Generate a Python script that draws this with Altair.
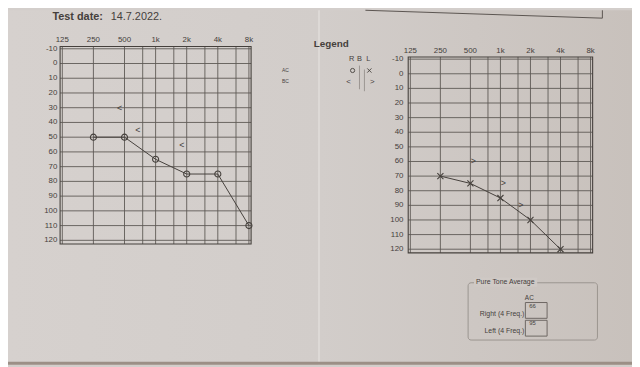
import altair as alt
import pandas as pd

# ---------------- data ----------------
grid_freqs = [125, 250, 500, 750, 1000, 1500, 2000, 3000, 4000, 6000, 8000]
octave_freqs = [125, 250, 500, 1000, 2000, 4000, 8000]
octave_labels = ["125", "250", "500", "1k", "2k", "4k", "8k"]
db_ticks = [-10, 0, 10, 20, 30, 40, 50, 60, 70, 80, 90, 100, 110, 120]

right_ac_freq = [250, 500, 1000, 2000, 4000, 8000]
right_ac_db = [50, 50, 65, 75, 75, 110]
right_bc_freq = [500, 750, 2000]
right_bc_db = [30, 45, 55]

left_ac_freq = [250, 500, 1000, 2000, 4000]
left_ac_db = [70, 75, 85, 100, 120]
left_bc_freq = [500, 1000, 1500]
left_bc_db = [60, 75, 90]

pta_labels = ["Right (4 Freq.)", "Left (4 Freq.)"]
pta_values = [66, 95]

# ---------------- style ----------------
W, H = 632, 359
INK = "#45403c"
GRID = "#5e5955"
FONT = "Liberation Sans"
X_SHAPE = "M-1,-1L1,1M-1,1L1,-1"


def one():
    return pd.DataFrame({"k": [0]})


def audiogram(ac_f, ac_d, bc_f, bc_d, shape, bc_char, bc_dx, xr, yr, lab_dy, lab_dx):
    xs = alt.Scale(type="log", base=2, domain=[125, 8000], range=xr, nice=False)
    ys = alt.Scale(type="linear", domain=[-10, 120], range=yr, nice=False, zero=False)

    vgrid = alt.Chart(pd.DataFrame({"f": grid_freqs})).mark_rule(
        color=GRID, strokeWidth=0.9
    ).encode(
        x=alt.X("f:Q", scale=xs, axis=None),
        y=alt.YDatum(-11.5, scale=ys, axis=None),
        y2=alt.Y2Datum(122.5),
    )
    hgrid = alt.Chart(pd.DataFrame({"d": db_ticks})).mark_rule(
        color=GRID, strokeWidth=0.9
    ).encode(
        y=alt.Y("d:Q", scale=ys, axis=None),
        x=alt.XDatum(119, scale=xs, axis=None),
        x2=alt.X2Datum(8400),
    )
    frame = alt.Chart(one()).mark_rect(
        fillOpacity=0, stroke=INK, strokeWidth=1.1
    ).encode(
        x=alt.XDatum(119, scale=xs, axis=None),
        x2=alt.X2Datum(8400),
        y=alt.YDatum(-11.5, scale=ys, axis=None),
        y2=alt.Y2Datum(122.5),
    )
    flabels = alt.Chart(
        pd.DataFrame({"f": octave_freqs, "t": octave_labels})
    ).mark_text(font=FONT, fontSize=8, color=INK, dy=lab_dy).encode(
        x=alt.X("f:Q", scale=xs, axis=None),
        y=alt.YDatum(-10, scale=ys, axis=None),
        text="t:N",
    )
    dlabels = alt.Chart(
        pd.DataFrame({"d": db_ticks, "t": [str(v) for v in db_ticks]})
    ).mark_text(font=FONT, fontSize=8, color=INK, align="right", dx=lab_dx).encode(
        y=alt.Y("d:Q", scale=ys, axis=None),
        x=alt.XDatum(125, scale=xs, axis=None),
        text="t:N",
    )
    ac = pd.DataFrame({"f": ac_f, "d": ac_d})
    line = alt.Chart(ac).mark_line(color=INK, strokeWidth=1).encode(
        x=alt.X("f:Q", scale=xs, axis=None),
        y=alt.Y("d:Q", scale=ys, axis=None),
    )
    pts = alt.Chart(ac).mark_point(
        shape=shape, filled=False, size=38, color=INK, strokeWidth=1.1, opacity=1
    ).encode(
        x=alt.X("f:Q", scale=xs, axis=None),
        y=alt.Y("d:Q", scale=ys, axis=None),
    )
    bc = alt.Chart(pd.DataFrame({"f": bc_f, "d": bc_d})).mark_text(
        text=bc_char, font=FONT, fontSize=9, color=INK, dx=bc_dx
    ).encode(
        x=alt.X("f:Q", scale=xs, axis=None),
        y=alt.Y("d:Q", scale=ys, axis=None),
    )
    return alt.layer(vgrid, hgrid, frame, flabels, dlabels, line, pts, bc)


def label(text, x, y, size=8, weight="normal", align="center", color=INK):
    return alt.Chart(one()).mark_text(
        text=text, fontSize=size, fontWeight=weight, align=align,
        baseline="middle", font=FONT, color=color
    ).encode(x=alt.value(x), y=alt.value(y))


def rule(x, y, x2, y2, color=INK, width=1.0, opacity=1.0):
    return alt.Chart(one()).mark_rule(
        color=color, strokeWidth=width, opacity=opacity
    ).encode(x=alt.value(x), y=alt.value(y), x2=alt.value(x2), y2=alt.value(y2))


def box(x, y, x2, y2, stroke, fill=None, radius=0, width=1.0):
    props = dict(stroke=stroke, strokeWidth=width, cornerRadius=radius)
    if fill is None:
        props["fillOpacity"] = 0
    else:
        props["fill"] = fill
        props["strokeOpacity"] = 0 if stroke is None else 1
    if stroke is None:
        props.pop("stroke")
        props["strokeWidth"] = 0
    return alt.Chart(one()).mark_rect(**props).encode(
        x=alt.value(x), y=alt.value(y), x2=alt.value(x2), y2=alt.value(y2)
    )


bg = alt.Chart(one()).mark_rect(
    color=alt.LinearGradient(
        gradient="linear",
        stops=[
            alt.GradientStop(color="#d6d1ce", offset=0),
            alt.GradientStop(color="#d2cdca", offset=0.5),
            alt.GradientStop(color="#c8c1bc", offset=1),
        ],
        x1=0, x2=1, y1=0, y2=0,
    )
).encode(x=alt.value(0), x2=alt.value(W), y=alt.value(0), y2=alt.value(H))

decor = [
    bg,
    rule(315, 0, 315, H, color="#e4e0dd", width=1.6, opacity=0.8),
    rule(362, 0, 602, 8, color="#5a5450", width=1),
    rule(602, 0, 602, 8, color="#5a5450", width=1),
    box(0, 356, W, H, None, fill="#9c8f86"),
    label("Test date:", 45, 7, size=11, weight="bold", align="left"),
    label("14.7.2022.", 104, 7, size=11, weight="normal", align="left"),
]

left = audiogram(right_ac_freq, right_ac_db, right_bc_freq, right_bc_db,
                 "circle", "<", -5, [55, 244], [39, 233], -9, -5)
right = audiogram(left_ac_freq, left_ac_db, left_bc_freq, left_bc_db,
                  X_SHAPE, ">", 3, [407.5, 590], [49.5, 242], -8, -7)

legend = [
    label("Legend", 327.5, 34, size=10, weight="bold"),
    label("R", 348, 49, size=7.5),
    label("B", 356, 49, size=7.5),
    label("L", 365, 49, size=7.5),
    label("AC", 281, 61, size=5),
    label("BC", 281, 72, size=5),
    rule(356, 56, 356, 80, color="#8e8884", width=0.8),
    rule(361, 60, 361, 82, color="#8e8884", width=0.8),
    alt.Chart(one()).mark_point(shape="circle", filled=False, size=18, color=INK,
                                strokeWidth=0.9, opacity=1).encode(
        x=alt.value(349), y=alt.value(61)),
    alt.Chart(one()).mark_point(shape=X_SHAPE, filled=False, size=18, color=INK,
                                strokeWidth=0.9, opacity=1).encode(
        x=alt.value(366), y=alt.value(61)),
    label("<", 345, 73, size=8),
    label(">", 369, 73, size=8),
]

pta = [
    box(466, 276, 597, 334, "#9a948f", radius=3, width=1),
    box(472, 271, 536, 280, None, fill="#cfc9c5"),
    label("Pure Tone Average", 474, 275, size=7, align="left"),
    label("AC", 528, 291, size=6.5),
    box(524, 296, 546, 312, "#6d6763", width=1),
    box(524, 314, 546, 330, "#6d6763", width=1),
    label(str(pta_values[0]), 528, 300, size=6, align="left"),
    label(str(pta_values[1]), 528, 317, size=6, align="left"),
    label(pta_labels[0], 523, 308, size=7, align="right"),
    label(pta_labels[1], 523, 325, size=7, align="right"),
]

chart = alt.layer(*decor, left, right, *legend, *pta).resolve_scale(
    x="independent", y="independent"
).properties(
    width=W, height=H, padding=0, autosize="none", background="#d3cecb"
).configure_view(strokeWidth=0)

chart.save("out.html", embed_options={"renderer": "svg", "actions": False})
